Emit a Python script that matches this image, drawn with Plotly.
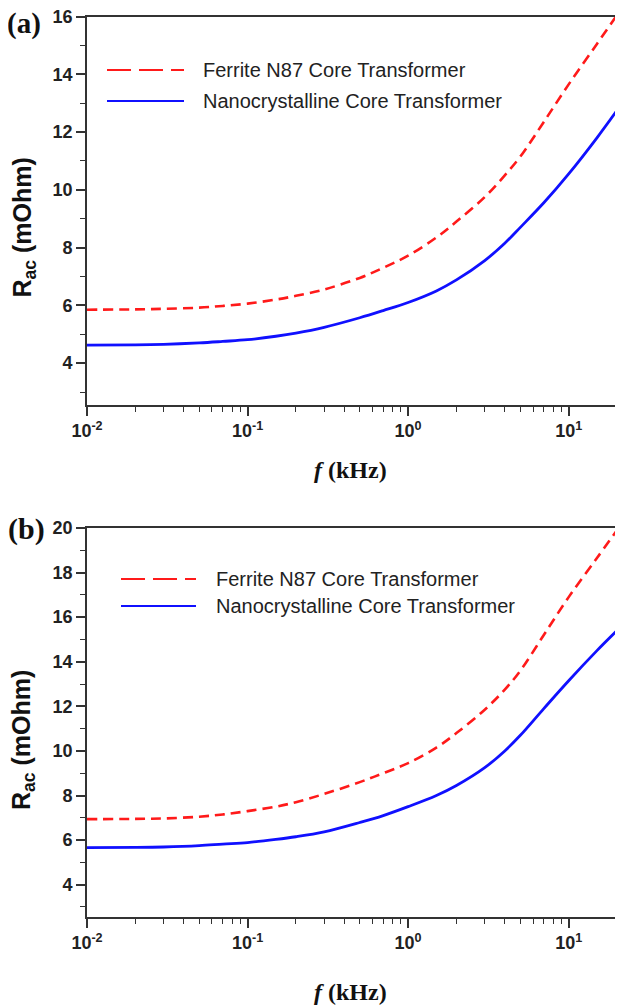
import plotly.graph_objects as go

# ---------------- data ----------------
freq_khz = [0.01, 0.02, 0.03, 0.05, 0.07, 0.1, 0.15, 0.2, 0.3, 0.5, 0.7,
            1, 1.5, 2, 3, 4, 5, 7, 10, 15, 20]

ferrite_a = [5.85, 5.86, 5.88, 5.92, 5.98, 6.06, 6.2, 6.33, 6.55, 6.95, 7.3,
             7.72, 8.35, 8.9, 9.75, 10.5, 11.15, 12.35, 13.65, 15.05, 16.05]
nano_a = [4.62, 4.63, 4.65, 4.7, 4.75, 4.81, 4.93, 5.04, 5.24, 5.57, 5.82,
          6.1, 6.5, 6.88, 7.55, 8.15, 8.7, 9.55, 10.55, 11.8, 12.75]

ferrite_b = [6.94, 6.95, 6.97, 7.05, 7.15, 7.3, 7.5, 7.7, 8.07, 8.6, 9.0,
             9.45, 10.15, 10.8, 11.85, 12.75, 13.6, 15.2, 16.9, 18.65, 19.9]
nano_b = [5.66, 5.67, 5.69, 5.75, 5.82, 5.89, 6.03, 6.15, 6.37, 6.79, 7.1,
          7.5, 8.0, 8.45, 9.25, 10.0, 10.7, 11.9, 13.15, 14.5, 15.4]

series_names = ["Ferrite N87 Core Transformer", "Nanocrystalline Core Transformer"]
panel_labels = ["(a)", "(b)"]

x_tick_vals = [0.01, 0.1, 1, 10]
x_tick_text = ["10<sup>-2</sup>", "10<sup>-1</sup>", "10<sup>0</sup>", "10<sup>1</sup>"]
x_minor_vals = [m * d for d in (0.01, 0.1, 1, 10) for m in range(2, 10) if m * d <= 20]

y_tick_vals_a = [4, 6, 8, 10, 12, 14, 16]
y_tick_vals_b = [4, 6, 8, 10, 12, 14, 16, 18, 20]

# ---------------- layout helpers ----------------
W, H = 623, 1005
OFF = 8  # the page body adds an 8 px margin around the plot div


def px(x, y):
    return (x - OFF) / W, 1 - (y - OFF) / H


RED = "#ff1a1a"
BLUE = "#1010ff"
AXC = "#333333"
SANS = "Arial, Liberation Sans, sans-serif"
SERIF = "Times New Roman, Liberation Serif, serif"

panels = [
    dict(top=16.5, bottom=405, yr=[2.55, 16], yt=y_tick_vals_a,
         red=ferrite_a, blue=nano_a, ytitle=(23, 227.5, 25), xtitle_y=470, lab=(24, 23, 29),
         leg_x0=107, leg_x1=184, leg_tx=201, leg_y=(70, 101)),
    dict(top=528, bottom=917, yr=[2.55, 20], yt=y_tick_vals_b,
         red=ferrite_b, blue=nano_b, ytitle=(23, 740, 25), xtitle_y=992, lab=(26, 529, 30),
         leg_x0=121, leg_x1=196, leg_tx=214, leg_y=(579, 606)),
]

x_left, x_right = 87, 617
xdom = [px(x_left, 0)[0], px(x_right, 0)[0]]

fig = go.Figure()
layout = dict(width=W, height=H, margin=dict(l=0, r=0, t=0, b=0, autoexpand=False),
              paper_bgcolor="white", plot_bgcolor="white", showlegend=False)
annotations = []
shapes = []

for i, p in enumerate(panels):
    xa = 2 * i + 1
    xt = 2 * i + 2
    ya = 2 * i + 1
    yr_ = 2 * i + 2
    xname = "x" if xa == 1 else f"x{xa}"
    yname = "y" if ya == 1 else f"y{ya}"
    ydom = [px(0, p["bottom"])[1], px(0, p["top"])[1]]

    fig.add_trace(go.Scatter(x=freq_khz, y=p["red"], mode="lines", name=series_names[0],
                             line=dict(color=RED, width=2.6, dash="10px,6px", shape="spline"),
                             xaxis=xname, yaxis=yname))
    fig.add_trace(go.Scatter(x=freq_khz, y=p["blue"], mode="lines", name=series_names[1],
                             line=dict(color=BLUE, width=2.8, shape="spline"),
                             xaxis=xname, yaxis=yname))

    xr = [-2, 1.30103]
    layout[f"xaxis{xa}"] = dict(
        type="log", range=xr, domain=xdom, anchor=yname, automargin=False,
        tickmode="array", tickvals=x_tick_vals, ticktext=x_tick_text,
        ticks="outside", ticklen=9, tickwidth=1.5, tickcolor=AXC,
        ticklabeloverflow="allow",
        minor=dict(tickmode="array", tickvals=x_minor_vals, ticks="outside",
                   ticklen=5, tickwidth=1.2, tickcolor=AXC, showgrid=False),
        showline=True, linecolor=AXC, linewidth=1.6, mirror=True,
        showgrid=False, zeroline=False,
        tickfont=dict(family=SANS, size=18, color="#222", weight="bold"),
    )
    layout[f"xaxis{xt}"] = dict(
        type="log", range=xr, domain=xdom, anchor=yname, overlaying=xname, side="top",
        automargin=False,
        tickmode="array", tickvals=x_tick_vals, showticklabels=False,
        ticks="inside", ticklen=7, tickwidth=1.5, tickcolor=AXC,
        minor=dict(tickmode="array", tickvals=x_minor_vals, ticks="inside",
                   ticklen=4, tickwidth=1.2, tickcolor=AXC, showgrid=False),
        showline=False, showgrid=False, zeroline=False,
    )
    layout[f"yaxis{ya}"] = dict(
        range=p["yr"], domain=ydom, anchor=xname, automargin=False,
        tickmode="array", tickvals=p["yt"],
        ticks="outside", ticklen=9, tickwidth=1.5, tickcolor=AXC,
        ticklabeloverflow="allow",
        minor=dict(dtick=1, tick0=0, ticks="outside", ticklen=5, tickwidth=1.2,
                   tickcolor=AXC, showgrid=False),
        showline=True, linecolor=AXC, linewidth=1.6, mirror=True,
        showgrid=False, zeroline=False,
        tickfont=dict(family=SANS, size=18, color="#222", weight="bold"),
    )
    layout[f"yaxis{yr_}"] = dict(
        range=[-0.55, 18.95], domain=ydom, anchor=xname, overlaying=yname, side="right",
        automargin=False,
        dtick=1, tick0=0, showticklabels=False,
        ticks="outside", ticklen=6, tickwidth=1.5, tickcolor=AXC,
        showline=False, showgrid=False, zeroline=False,
    )

    tx_, ty_, ts_ = p["ytitle"]
    ax_, ay_ = px(tx_, ty_)
    annotations.append(dict(x=ax_, y=ay_, xref="paper", yref="paper", showarrow=False,
                            text="<b>R<sub>ac</sub> (mOhm)</b>", textangle=-90,
                            font=dict(family=SANS, size=ts_, color="#111"),
                            xanchor="center", yanchor="middle"))
    ax_, ay_ = px(350, p["xtitle_y"])
    annotations.append(dict(x=ax_, y=ay_, xref="paper", yref="paper", showarrow=False,
                            text="<b><i>f</i> (kHz)</b>",
                            font=dict(family=SERIF, size=24, color="#111"),
                            xanchor="center", yanchor="middle"))
    lx_, ly_, ls_ = p["lab"]
    ax_, ay_ = px(lx_, ly_)
    annotations.append(dict(x=ax_, y=ay_, xref="paper", yref="paper", showarrow=False,
                            text=f"<b>{panel_labels[i]}</b>",
                            font=dict(family=SERIF, size=ls_, color="#111"),
                            xanchor="center", yanchor="middle"))

    for j, (col, dash) in enumerate([(RED, "24px,8px"), (BLUE, "solid")]):
        ly = p["leg_y"][j]
        x0, y0 = px(p["leg_x0"], ly)
        x1, _ = px(p["leg_x1"], ly)
        shapes.append(dict(type="line", xref="paper", yref="paper", x0=x0, x1=x1,
                           y0=y0, y1=y0, line=dict(color=col, width=2, dash=dash)))
        tx, ty = px(p["leg_tx"], ly)
        annotations.append(dict(x=tx, y=ty, xref="paper", yref="paper", showarrow=False,
                                text=series_names[j], xanchor="left", yanchor="middle",
                                font=dict(family=SANS, size=20, color="#222")))

layout["annotations"] = annotations
layout["shapes"] = shapes
fig.update_layout(**layout)
fig.write_html("out.html")
